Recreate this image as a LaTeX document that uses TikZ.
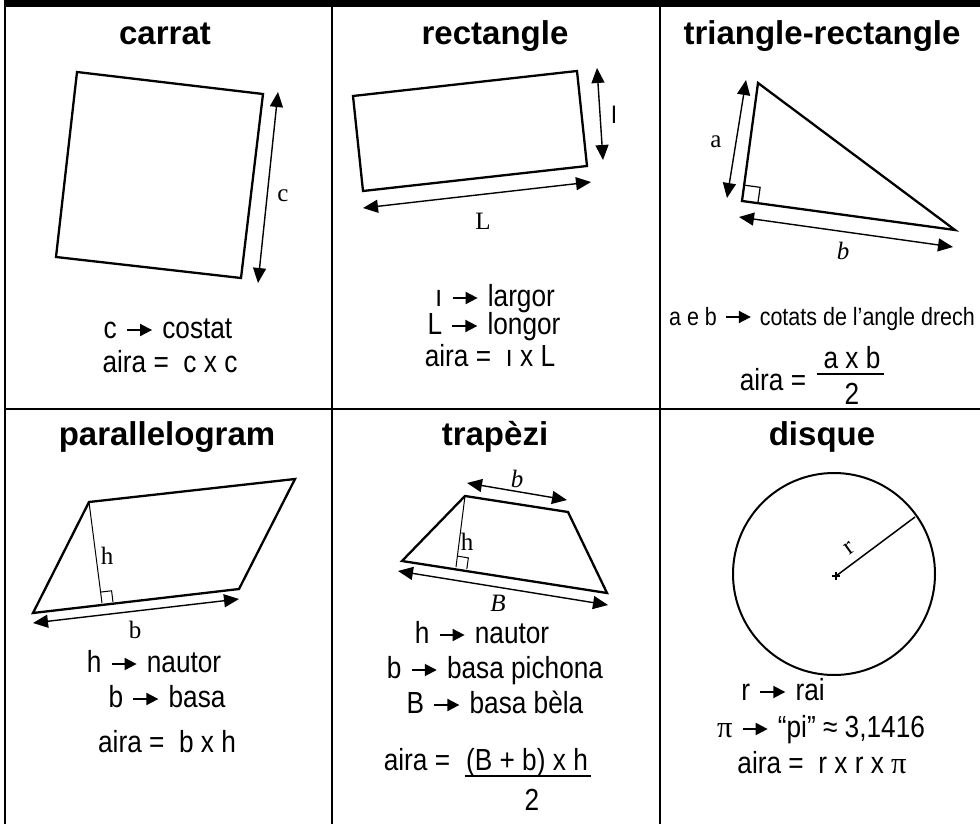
\documentclass[tikz,border=0pt]{standalone}
\usepackage{fontspec}
\setmainfont{Liberation Sans}
\newfontfamily\bodyf[FakeStretch=0.86]{Liberation Sans}
\newfontfamily\serf{Liberation Serif}
\usetikzlibrary{arrows.meta,calc}
\tikzset{
  titletext/.style={font=\fontsize{33}{35}\selectfont\bfseries, inner sep=0pt, anchor=base},
  bodytext/.style={font=\bodyf\fontsize{30.5}{32}\selectfont, inner sep=0pt, anchor=base},
  smalltext/.style={font=\bodyf\fontsize{25}{26}\selectfont, inner sep=0pt, anchor=base},
  labtext/.style={font=\serf\fontsize{25}{27}\selectfont, inner sep=0pt},
  outline/.style={line width=2.3pt, line join=miter},
  dimline/.style={line width=1.4pt, {Triangle[length=15pt,width=13pt]}-{Triangle[length=15pt,width=13pt]}},
  thinline/.style={line width=1pt},
  gridline/.style={line width=1.6pt},
}
\newcommand{\arr}{\hspace{2pt}\tikz[baseline=-8pt]\draw[line width=1.9pt,-{Triangle[length=12pt,width=12pt]}](0pt,0pt)--(25pt,0pt);\hspace{2pt}}
\begin{document}
\begin{tikzpicture}[x=1pt,y=-1pt]
\useasboundingbox (0,0) rectangle (980,824);
% table
\fill (4,0) rectangle (980,7);
\draw[gridline] (5,0) -- (5,824);
\draw[gridline] (332,7) -- (332,824);
\draw[gridline] (660,7) -- (660,824);
\draw[gridline] (5,409) -- (980,409);

% ---------- carrat ----------
\node[titletext] (t1) at (165,45) {carrat};
\coordinate (sqA) at (77,72);
\coordinate (sqB) at (263,94);
\coordinate (sqC) at (241,278);
\coordinate (sqD) at (56,257);
\draw[outline] (sqA) -- (sqB) -- (sqC) -- (sqD) -- cycle;
\coordinate (cT) at (278,92);
\coordinate (cB) at (258,283);
\draw[dimline] (cT) -- (cB);
\node[labtext] (cl) at (283,196) {c};
\node[bodytext] (c1) at (168,338) {c \arr\ costat};
\node[bodytext] (c2) at (170,372) {aira =\ \ c x c};

% ---------- rectangle ----------
\node[titletext] (t2) at (495,45) {rectangle};
\coordinate (rA) at (353,96);
\coordinate (rB) at (577,71);
\coordinate (rC) at (587,166);
\coordinate (rD) at (363,191);
\draw[outline] (rA) -- (rB) -- (rC) -- (rD) -- cycle;
\coordinate (lT) at (597,68);
\coordinate (lB) at (603,160);
\draw[dimline] (lT) -- (lB);
\node[labtext, font=\fontsize{24}{26}\selectfont] (ll) at (614,115) {l};
\coordinate (LL) at (363,208);
\coordinate (LR) at (591,182);
\draw[dimline] (LL) -- (LR);
\node[labtext] (Ll) at (483,221) {L};
\node[bodytext] (r1) at (495,306) {ı \arr\ largor};
\node[bodytext] (r2) at (494,334) {L \arr\ longor};
\node[bodytext] (r3) at (490,366) {aira =\ \ ı x L};

% ---------- triangle-rectangle ----------
\node[titletext] (t3) at (822,45) {triangle-rectangle};
\coordinate (tA) at (758,83);
\coordinate (tR) at (742,201);
\coordinate (tC) at (955,230);
\draw[outline] (tA) -- (tR) -- (tC) -- cycle;
\draw[line width=1.2pt] ($(tR)!16pt!(tA)$) -- ++(16,2.2) -- ($(tR)!16pt!(tC)$);
\coordinate (aT) at (746,80);
\coordinate (aB) at (727,198);
\draw[dimline] (aT) -- (aB);
\node[labtext] (al) at (716,142) {a};
\coordinate (bL) at (739,217);
\coordinate (bR) at (953,247);
\draw[dimline] (bL) -- (bR);
\node[labtext] (bl) at (843,251) {\itshape b};
\node[smalltext] (tr1) at (822,325) {a e b \arr\ cotats de l’angle drech};
\node[bodytext] (tr2) at (773,390) {aira =};
\node[bodytext] (tr3) at (852,368) {a x b};
\draw[line width=1.8pt] (817,374) -- (884,374);
\node[bodytext] (tr4) at (852,404) {2};

% ---------- parallelogram ----------
\node[titletext] (t4) at (167,445) {parallelogram};
\coordinate (pA) at (89,502);
\coordinate (pB) at (295,479);
\coordinate (pC) at (239,589);
\coordinate (pD) at (33,613);
\draw[outline] (pA) -- (pB) -- (pC) -- (pD) -- cycle;
\coordinate (pH) at (102,603);
\draw[thinline] (pA) -- (pH);
\draw[thinline] ($(pH)!11pt!(pA)$) -- ++(11,-1.3) -- ($(pH)!11pt!(pC)$);
\node[labtext] (hl) at (107,556) {h};
\coordinate (pbL) at (33,623);
\coordinate (pbR) at (239,599);
\draw[dimline] (pbL) -- (pbR);
\node[labtext] (pbl) at (135,630) {b};
\node[bodytext] (p1) at (154,672) {h \arr\ nautor};
\node[bodytext] (p2) at (167,707) {b \arr\ basa};
\node[bodytext] (p3) at (167,752) {aira =\ \ b x h};

% ---------- trapezi ----------
\node[titletext] (t5) at (495,445) {trapèzi};
\coordinate (zA) at (465,496);
\coordinate (zB) at (568,512);
\coordinate (zC) at (607,593);
\coordinate (zD) at (402,561);
\draw[outline] (zA) -- (zB) -- (zC) -- (zD) -- cycle;
\coordinate (zH) at (456,567);
\draw[thinline] (zA) -- (zH);
\draw[thinline] ($(zH)!11pt!(zA)$) -- ++(11,1.8) -- ($(zH)!11pt!(zC)$);
\node[labtext] (zhl) at (467,542) {h};
\coordinate (zbL) at (467,483);
\coordinate (zbR) at (567,500);
\draw[dimline] (zbL) -- (zbR);
\node[labtext] (zbl) at (517,479) {\itshape b};
\coordinate (zBL) at (398,571);
\coordinate (zBR) at (608,605);
\draw[dimline] (zBL) -- (zBR);
\node[labtext] (zBl) at (498,603) {\itshape B};
\node[bodytext] (z1) at (482,643) {h \arr\ nautor};
\node[bodytext] (z2) at (495,678) {b \arr\ basa pichona};
\node[bodytext] (z3) at (495,713) {B \arr\ basa bèla};
\node[bodytext] (z4) at (417,770) {aira =};
\node[bodytext] (z5) at (527,770) {(B + b) x h};
\draw[line width=1.8pt] (465,776) -- (591,776);
\node[bodytext] (z6) at (532,810) {2};

% ---------- disque ----------
\node[titletext] (t6) at (822,445) {disque};
\coordinate (dO) at (834,574);
\draw[line width=2pt] (dO) circle (101);
\coordinate (dP) at (915,517);
\draw[line width=1.5pt] (836,576) -- (dP);
\draw[line width=1.2pt] (832,576) -- (840,576) (836,572) -- (836,580);
\node[labtext, rotate=36] (rl) at (849,548) {r};
\node[bodytext] (d1) at (783,700) {r \arr\ rai};
\node[bodytext] (d2) at (821,737) {{\serf π} \arr\ “pi” ≈ 3,1416};
\node[bodytext] (d3) at (822,773) {aira =\ \ r x r x {\serf π}};
\end{tikzpicture}
\end{document}
